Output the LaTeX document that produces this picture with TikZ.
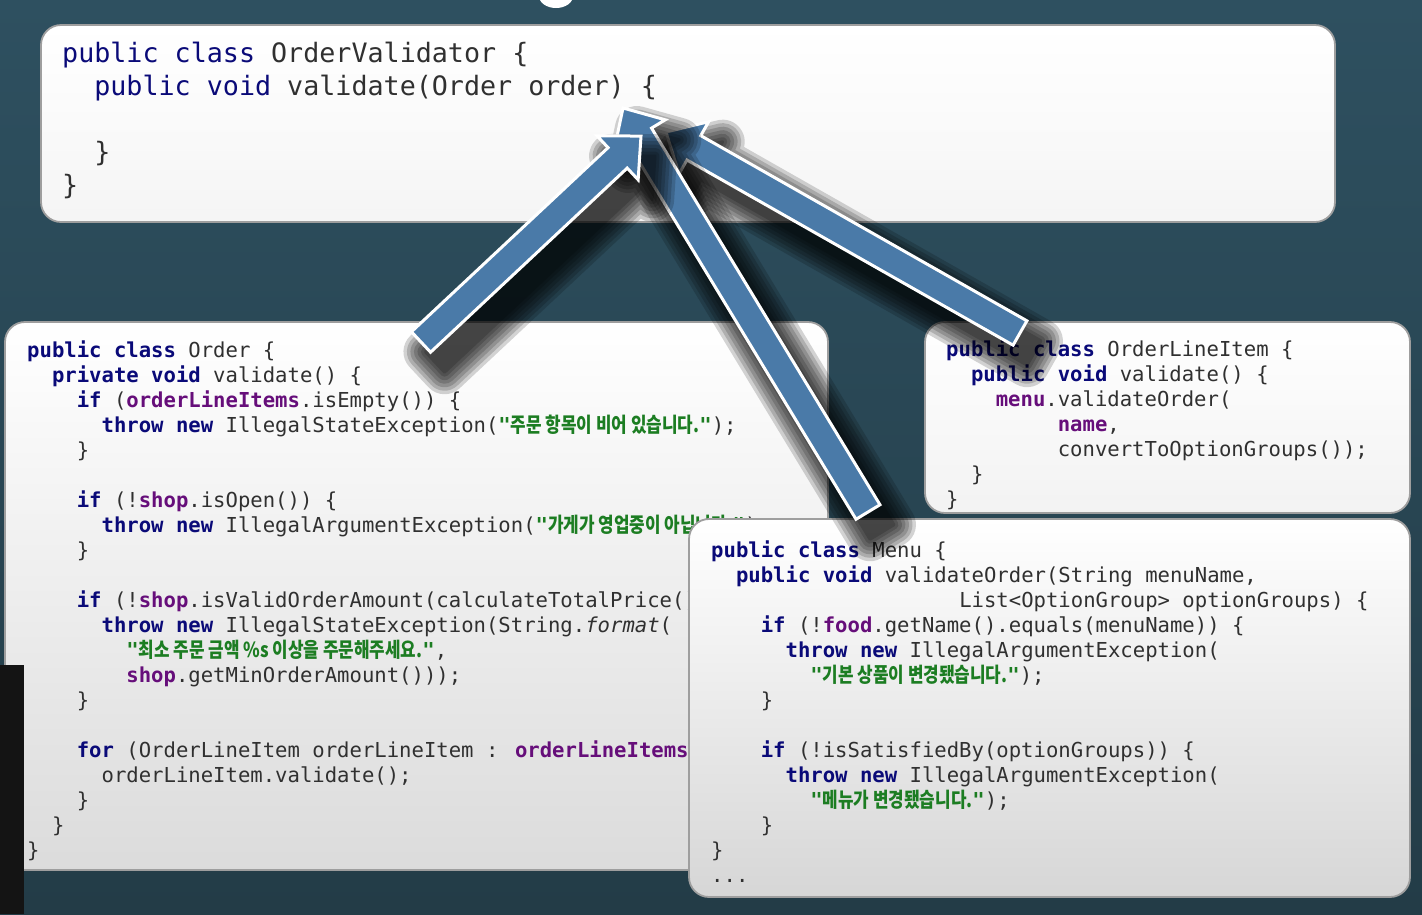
\documentclass[tikz,border=0pt]{standalone}
\usepackage{fontspec}
\usetikzlibrary{calc}
\newfontfamily\codefont{DejaVu Sans Mono}
\newfontfamily\krfont[FakeStretch=0.82]{Noto Sans CJK KR}
\definecolor{bgtop}{HTML}{2E5060}
\definecolor{bgbot}{HTML}{233C47}
\definecolor{kwc}{HTML}{0A0A78}
\definecolor{fdc}{HTML}{660E7A}
\definecolor{stc}{HTML}{1C7D22}
\definecolor{txc}{HTML}{303030}
\definecolor{arc}{HTML}{4A7AA8}
\newcommand\ind[1]{\hspace*{#1\fontcharwd\font`0}}
\newcommand\kw[1]{{\bfseries\color{kwc}#1}}
\newcommand\kwr[1]{{\color{kwc}#1}}
\newcommand\fd[1]{{\bfseries\color{fdc}#1}}
\newcommand\ks[1]{{\color{stc}\bfseries"{\krfont#1}"}}
\newcommand\mkarrow[3]{%
  \coordinate (#1T) at #2;
  \coordinate (#1P) at #3;
  \coordinate (#1B) at ($(#1P)!32pt!(#1T)$);
  \coordinate (#1ta) at ($(#1T)!14pt!90:(#1P)$);
  \coordinate (#1tb) at ($(#1T)!14pt!-90:(#1P)$);
  \coordinate (#1ba) at ($(#1B)!14pt!90:(#1P)$);
  \coordinate (#1bb) at ($(#1B)!14pt!-90:(#1P)$);
  \coordinate (#1wa) at ($(#1B)!30pt!90:(#1P)$);
  \coordinate (#1wb) at ($(#1B)!30pt!-90:(#1P)$);
}
\newcommand\apath[1]{(#1ta) -- (#1ba) -- (#1wa) -- (#1P) -- (#1wb) -- (#1bb) -- (#1tb) -- cycle}
\newcommand\ashadow[1]{%
  \begin{scope}[transform canvas={shift={(14pt,-20pt)}}]
    \foreach \w in {44,37,30,23,16,9,3}{
      \begin{scope}[transparency group, opacity=0.17]
        \filldraw[black, line width=\w pt, line join=round] \apath{#1};
      \end{scope}
    }
  \end{scope}}
\newcommand\barrow[1]{%
  \ashadow{#1}
  \filldraw[fill=arc, draw=white, line width=3pt, line join=miter] \apath{#1};}
\begin{document}
\begin{tikzpicture}[x=1pt,y=-1pt,
  codeS/.style={anchor=north west, align=left, inner sep=0pt, text=txc,
    font={\codefont\fontsize{20.6}{25}\selectfont\lineskiplimit=-100pt}},
  codeL/.style={anchor=north west, align=left, inner sep=0pt, text=txc,
    font={\codefont\fontsize{26.7}{33}\selectfont\lineskiplimit=-100pt}},
  panel/.style={draw=black!38, line width=1.8pt, rounded corners=20pt}]
\useasboundingbox (0,0) rectangle (1422,914);
% background
\shade[top color=bgtop, bottom color=bgbot] (0,0) rectangle (1422,914);
\fill[white] (556,-4) ellipse [x radius=17, y radius=12];
% top box
\shade[panel, top color=white, bottom color=black!4] (41,25) rectangle (1335,222);
\node[codeL] (validator) at (62,37) {\rule{0pt}{25pt}\kwr{public class} OrderValidator \{\\
\ind{2}\kwr{public void} validate(Order order) \{\\
\mbox{}\\
\ind{2}\}\\
\}};
% Order box
\shade[panel, top color=white, bottom color=black!14] (5,322) rectangle (828,870);
\node[codeS] (order) at (27,337) {\rule{0pt}{20pt}\kw{public class} Order \{\\
\ind{2}\kw{private void} validate() \{\\
\ind{4}\kw{if} (\fd{orderLineItems}.isEmpty()) \{\\
\ind{6}\kw{throw new} IllegalStateException(\ks{주문 항목이 비어 있습니다.});\\
\ind{4}\}\\
\mbox{}\\
\ind{4}\kw{if} (!\fd{shop}.isOpen()) \{\\
\ind{6}\kw{throw new} IllegalArgumentException(\ks{가게가 영업중이 아닙니다.});\\
\ind{4}\}\\
\mbox{}\\
\ind{4}\kw{if} (!\fd{shop}.isValidOrderAmount(calculateTotalPrice())) \{\\
\ind{6}\kw{throw new} IllegalStateException(String.\textit{format}(\\
\ind{8}\ks{최소 주문 금액 \%s 이상을 주문해주세요.},\\
\ind{8}\fd{shop}.getMinOrderAmount()));\\
\ind{4}\}\\
\mbox{}\\
\ind{4}\kw{for} (OrderLineItem orderLineItem : \fd{orderLineItems}) \{\\
\ind{6}orderLineItem.validate();\\
\ind{4}\}\\
\ind{2}\}\\
\}};
\fill[black!92] (0,665) rectangle (24,914);
% OrderLineItem box
\shade[panel, top color=white, bottom color=black!5] (925,322) rectangle (1410,513);
\node[codeS] (lineitem) at (946,336) {\rule{0pt}{20pt}\kw{public class} OrderLineItem \{\\
\ind{2}\kw{public void} validate() \{\\
\ind{4}\fd{menu}.validateOrder(\\
\ind{9}\fd{name},\\
\ind{9}convertToOptionGroups());\\
\ind{2}\}\\
\}};
% Menu box
\shade[panel, top color=white, bottom color=black!16] (689,519) rectangle (1410,897);
\node[codeS] (menu) at (711,537) {\rule{0pt}{20pt}\kw{public class} Menu \{\\
\ind{2}\kw{public void} validateOrder(String menuName,\\
\ind{20}List<OptionGroup> optionGroups) \{\\
\ind{4}\kw{if} (!\fd{food}.getName().equals(menuName)) \{\\
\ind{6}\kw{throw new} IllegalArgumentException(\\
\ind{8}\ks{기본 상품이 변경됐습니다.});\\
\ind{4}\}\\
\mbox{}\\
\ind{4}\kw{if} (!isSatisfiedBy(optionGroups)) \{\\
\ind{6}\kw{throw new} IllegalArgumentException(\\
\ind{8}\ks{메뉴가 변경됐습니다.});\\
\ind{4}\}\\
\}\\
...};
% arrows
\mkarrow{c}{(1020,333)}{(666,132)}
\mkarrow{b}{(868,512)}{(623,108)}
\mkarrow{a}{(421,342)}{(641,136)}
\barrow{c}
\barrow{b}
\barrow{a}
\end{tikzpicture}
\end{document}
